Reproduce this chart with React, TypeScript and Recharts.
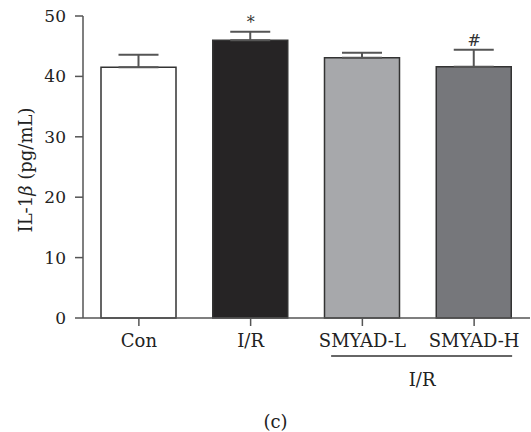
import { Bar, BarChart, Cell, ErrorBar, ReferenceDot, XAxis, YAxis } from "recharts";

const groups = ["Con", "I/R", "SMYAD-L", "SMYAD-H"];
const means = [41.5, 46.0, 43.1, 41.6];
const sems = [2.1, 1.4, 0.8, 2.8];
const marks = ["", "*", "", "#"];
const fills = ["#ffffff", "#262425", "#a7a8ab", "#76777b"];
const yTicks = [0, 10, 20, 30, 40, 50];

const data = groups.map((g, i) => ({ group: g, mean: means[i], err: [0, sems[i]] }));

const FONT = "'DejaVu Serif', serif";

function GroupTick({ x, y, payload, index }: any) {
  return (
    <g>
      <text x={x} y={y} dy={17} textAnchor="middle" fontFamily={FONT} fontSize={18} fill="#222">
        {payload.value}
      </text>
      {index === 3 && (
        <g>
          <line x1={x - 143} x2={x + 38} y1={y + 26} y2={y + 26} stroke="#333" strokeWidth={1.3} />
          <text x={x - 52} y={y + 56} textAnchor="middle" fontFamily={FONT} fontSize={18} fill="#222">
            I/R
          </text>
        </g>
      )}
    </g>
  );
}

function YLabel({ viewBox }: any) {
  const cx = 25;
  const cy = viewBox.y + viewBox.height / 2 + 3;
  return (
    <text
      x={cx}
      y={cy}
      transform={`rotate(-90 ${cx} ${cy})`}
      textAnchor="middle"
      dominantBaseline="central"
      fontFamily={FONT}
      fontSize={18}
      fill="#222"
    >
      IL-1<tspan fontStyle="italic">β</tspan> (pg/mL)
    </text>
  );
}

export default function App() {
  return (
    <div style={{ position: "absolute", left: 0, top: 0, width: 531, height: 432, background: "#fff" }}>
      <BarChart width={531} height={432} data={data} margin={{ top: 16, right: 1, bottom: 84, left: 0 }}>
        <XAxis
          dataKey="group"
          height={30}
          tick={<GroupTick />}
          tickSize={8}
          tickMargin={4}
          axisLine={{ stroke: "#555", strokeWidth: 1.5 }}
          tickLine={{ stroke: "#555", strokeWidth: 1.5 }}
          interval={0}
        />
        <YAxis
          width={83}
          domain={[0, 50]}
          ticks={yTicks}
          tickSize={8}
          tickMargin={9}
          axisLine={{ stroke: "#555", strokeWidth: 1.5 }}
          tickLine={{ stroke: "#555", strokeWidth: 1.5 }}
          tick={{ fontFamily: FONT, fontSize: 17, fill: "#222" }}
          label={{ content: <YLabel /> }}
        />
        <Bar dataKey="mean" barSize={75} stroke="#333" strokeWidth={1.5} isAnimationActive={false}>
          {data.map((d, i) => (
            <Cell key={d.group} fill={fills[i]} />
          ))}
          <ErrorBar dataKey="err" width={20} stroke="#555" strokeWidth={2} direction="y" />
        </Bar>
        {groups.map((g, i) =>
          marks[i] ? (
            <ReferenceDot
              key={g}
              x={g}
              y={means[i] + sems[i]}
              r={0}
              fill="none"
              stroke="none"
              label={{ value: marks[i], position: "top", offset: 4, fontFamily: FONT, fontSize: 16, fill: "#333" }}
            />
          ) : null
        )}
      </BarChart>
      <div
        style={{
          position: "absolute",
          left: 0,
          width: 551,
          top: 411,
          textAlign: "center",
          fontFamily: FONT,
          fontSize: 18,
          color: "#222",
        }}
      >
        (c)
      </div>
    </div>
  );
}
